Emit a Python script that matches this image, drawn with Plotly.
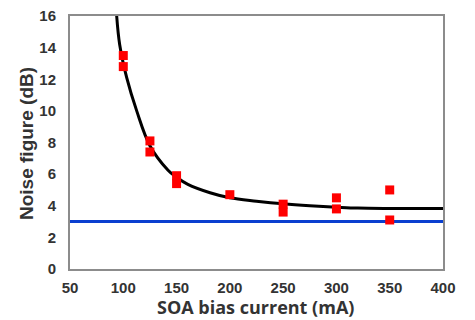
import plotly.graph_objects as go

# Measured data (SOA bias current in mA, noise figure in dB)
meas_current = [100, 100, 125, 125, 150, 150, 200, 250, 250, 300, 300, 350, 350]
meas_nf = [13.5, 12.8, 8.1, 7.4, 5.9, 5.4, 4.7, 4.1, 3.6, 4.5, 3.8, 5.0, 3.1]

# Fitted trend curve
fit_current = [93.8, 96.6, 103.2, 112.6, 125, 142, 150, 160.6, 181.4, 200, 225, 250, 275, 300, 320, 350, 400]
fit_nf = [16.0, 14.2, 12.1, 10.0, 7.8, 6.25, 5.8, 5.35, 4.82, 4.5, 4.29, 4.12, 4.0, 3.91, 3.85, 3.83, 3.83]

# Reference (quantum limit) line
ref_nf = 3.0

x_ticks = [50, 100, 150, 200, 250, 300, 350, 400]
y_ticks = [0, 2, 4, 6, 8, 10, 12, 14, 16]
x_title = "SOA bias current (mA)"
y_title = "Noise figure (dB)"

fig = go.Figure()
fig.add_hline(y=ref_nf, line=dict(color="#0a3fd0", width=3), layer="below")
fig.add_trace(go.Scatter(x=fit_current, y=fit_nf, mode="lines",
                         line=dict(color="black", width=3, shape="spline"),
                         showlegend=False, hoverinfo="skip"))
fig.add_trace(go.Scatter(x=meas_current, y=meas_nf, mode="markers",
                         marker=dict(symbol="square", size=9, color="#ff0000"),
                         showlegend=False))

tick_font = dict(family="Liberation Sans, Arial, sans-serif", size=15, color="#333333")
fig.update_xaxes(range=[50, 400], tickvals=x_ticks, ticktext=[f"<b>{v}</b>" for v in x_ticks],
                 showgrid=False, zeroline=False, showline=True, mirror=True,
                 linecolor="#8c8c8c", linewidth=2, ticks="", tickfont=tick_font,
                 ticklabelstandoff=4, automargin=False, ticklabeloverflow="allow")
fig.update_yaxes(range=[0, 16], tickvals=y_ticks, ticktext=[f"<b>{v}</b>" for v in y_ticks],
                 showgrid=False, zeroline=False, showline=True, mirror=True,
                 linecolor="#8c8c8c", linewidth=2, ticks="", tickfont=tick_font,
                 ticklabelstandoff=9, automargin=False, ticklabeloverflow="allow")

fig.add_annotation(text=f"<b>{x_title}</b>", xref="paper", yref="paper", x=0.496, y=-0.152,
                   xanchor="center", yanchor="middle", showarrow=False,
                   font=dict(family="Open Sans, sans-serif", size=18, color="#333333"))
fig.add_annotation(text=f"<b>{y_title}</b>", xref="paper", yref="paper", x=-0.118, y=0.498,
                   xanchor="center", yanchor="middle", showarrow=False, textangle=-90,
                   font=dict(family="Liberation Sans, Arial, sans-serif", size=19, color="#333333"))

fig.add_shape(type="rect", xref="paper", yref="paper", x0=1.037, x1=1.3, y0=-0.3, y1=1.1,
              fillcolor="white", line=dict(width=0), layer="above")

fig.update_layout(width=475, height=320, margin=dict(l=62, r=40, t=8, b=59),
                  plot_bgcolor="white", paper_bgcolor="white")

fig.write_html("out.html")
